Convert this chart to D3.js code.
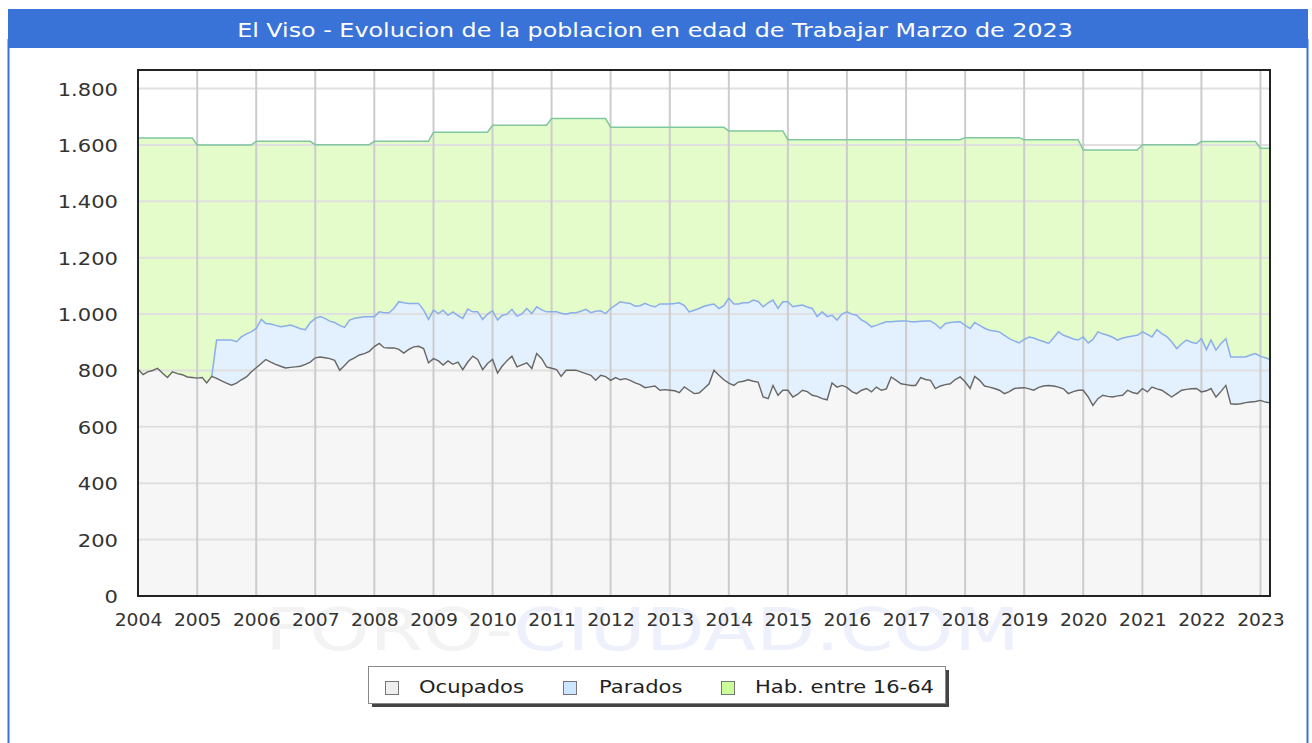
<!DOCTYPE html>
<html>
<head>
<meta charset="utf-8">
<script src="https://cdn.jsdelivr.net/npm/d3@7"></script>
<style>
  body { margin: 0; background: #fff; }
  text { font-family: 'DejaVu Sans', sans-serif; }
</style>
</head>
<body>
<svg id="chart" width="1312" height="743"></svg>
<script>
'use strict'

const titulo = 'El Viso - Evolucion de la poblacion en edad de Trabajar Marzo de 2023'
const years = [2004, 2005, 2006, 2007, 2008, 2009, 2010, 2011, 2012, 2013,
  2014, 2015, 2016, 2017, 2018, 2019, 2020, 2021, 2022, 2023]
const yTicks = [0, 200, 400, 600, 800, 1000, 1200, 1400, 1600, 1800]
const series = ['Ocupados', 'Parados', 'Hab. entre 16-64']

// habitantes 16-64, un valor por año
const habitantes = [1625, 1600, 1613, 1601, 1613, 1645, 1670, 1694, 1663, 1663,
  1650, 1619, 1619, 1619, 1626, 1619, 1582, 1601, 1612, 1588]

// mensual, enero 2004 - marzo 2023
const ocupados = [
  805, 785, 795, 800, 808, 790, 775, 795, 789, 785, 777, 775,
  773, 775, 756, 779, 772, 763, 755, 748, 755, 767, 777, 795,
  810, 825, 839, 830, 822, 815, 809, 811, 813, 815, 822, 830,
  845, 848, 845, 842, 836, 801, 818, 836, 845, 855, 860, 868,
  885, 896, 881, 880, 880, 875, 862, 875, 884, 886, 878, 827,
  842, 834, 819, 834, 822, 830, 803, 830, 851, 839, 803, 825,
  839, 791, 815, 835, 851, 813, 820, 827, 807, 860, 842, 813,
  808, 803, 779, 801, 801, 801, 795, 789, 783, 765, 783, 778,
  765, 775, 767, 771, 765, 756, 750, 739, 742, 745, 730, 732,
  730, 728, 721, 742, 730, 718, 720, 736, 753, 801, 783, 767,
  755, 747, 759, 762, 767, 762, 759, 706, 700, 747, 712, 730,
  730, 706, 715, 730, 725, 712, 708, 700, 696, 756, 741, 747,
  740, 725, 718, 730, 736, 724, 741, 730, 735, 777, 765, 753,
  750, 747, 747, 775, 768, 765, 736, 745, 750, 753, 768, 777,
  760, 736, 779, 765, 745, 741, 736, 730, 718, 725, 736, 738,
  739, 735, 730, 740, 745, 747, 745, 741, 735, 718, 725, 730,
  730, 706, 676, 700, 712, 708, 706, 710, 712, 730, 722, 718,
  736, 724, 741, 735, 730, 718, 706, 718, 730, 733, 735, 736,
  724, 728, 736, 706, 725, 747, 682, 680, 682, 686, 688, 690,
  694, 688, 685
]

const parados = [
  null, null, null, null, null, null, null, null, null, null, null, null,
  null, null, null, 0, 136, 145, 153, 160, 147, 152, 153, 142,
  139, 156, 128, 135, 138, 140, 149, 150, 142, 133, 123, 140,
  140, 143, 140, 133, 134, 159, 135, 143, 140, 133, 131, 123,
  106, 112, 124, 125, 140, 169, 178, 163, 154, 152, 136, 154,
  172, 168, 195, 162, 186, 165, 182, 188, 157, 169, 178, 175,
  173, 188, 180, 165, 166, 180, 180, 193, 195, 166, 173, 195,
  200, 205, 224, 199, 204, 204, 215, 228, 222, 245, 229, 224,
  255, 257, 277, 269, 273, 272, 280, 299, 288, 281, 306, 304,
  306, 310, 319, 288, 278, 296, 300, 292, 279, 235, 237, 263,
  301, 289, 277, 278, 273, 288, 286, 320, 340, 303, 308, 314,
  314, 320, 315, 302, 300, 308, 283, 308, 295, 240, 238, 253,
  268, 275, 278, 249, 234, 231, 219, 237, 238, 196, 210, 223,
  226, 226, 226, 200, 208, 211, 229, 204, 217, 217, 204, 196,
  200, 213, 191, 195, 205, 202, 204, 207, 207, 188, 169, 160,
  171, 184, 185, 168, 158, 149, 170, 196, 190, 201, 187, 178,
  189, 192, 234, 237, 218, 217, 212, 198, 203, 189, 200, 207,
  201, 204, 178, 210, 201, 202, 196, 160, 165, 175, 165, 160,
  189, 146, 172, 166, 170, 166, 166, 168, 166, 162, 167, 170,
  156, 157, 154
]

const AZUL = '#3a73d7'

/**
 * Pone un texto estirado en horizontal como en la imagen original
 * @param {object} sel la seleccion de texto
 * @param {number} x posicion horizontal
 * @param {number} y linea base
 * @param {number} k factor de estiramiento
 */
function stretch (sel, x, y, k = 1.17) {
  sel.attr('transform', `translate(${x},${y}) scale(${k},1)`)
}

(function (d3) {
  const svg = d3.select('#chart')
  const plot = { left: 138, right: 1270, top: 70, bottom: 596 }

  const rows = ocupados.map((oc, i) => {
    const par = parados[i]
    return {
      date: new Date(2004, i, 1),
      oc: oc,
      par: par,
      tot: oc + (par === null ? 0 : par),
      hab: habitantes[Math.floor(i / 12)]
    }
  })

  const x = d3.scaleTime()
    .domain([rows[0].date, rows[rows.length - 1].date])
    .range([plot.left, plot.right])
  const y = d3.scaleLinear()
    .domain([0, 1866])
    .range([plot.bottom, plot.top])

  // marco y titulo
  svg.append('rect')
    .attr('x', 8.5).attr('y', 40).attr('width', 1299).attr('height', 720)
    .attr('fill', 'none').attr('stroke', AZUL).attr('stroke-width', 2)
  svg.append('rect')
    .attr('x', 8).attr('y', 9).attr('width', 1300).attr('height', 39)
    .attr('fill', AZUL)
  svg.append('text')
    .attr('text-anchor', 'middle')
    .attr('font-size', 20)
    .attr('fill', '#fff')
    .text(titulo)
    .call(stretch, 655, 36.5, 1.19)

  // marca de agua
  const wm = svg.append('text')
    .attr('x', 265).attr('y', 650)
    .attr('font-size', 58)
    .attr('textLength', 755)
    .attr('lengthAdjust', 'spacingAndGlyphs')
  wm.append('tspan').attr('fill', '#f3f3f3').text('FORO-')
  wm.append('tspan').attr('fill', '#eef0fb').text('CIUDAD.COM')

  svg.append('rect')
    .attr('x', plot.left).attr('y', plot.top)
    .attr('width', plot.right - plot.left).attr('height', plot.bottom - plot.top)
    .attr('fill', '#fff')

  // areas apiladas
  svg.append('path').datum(rows)
    .attr('fill', '#e4fcc9')
    .attr('d', d3.area().x(d => x(d.date)).y0(d => y(d.tot)).y1(d => y(d.hab)))
  svg.append('path').datum(rows)
    .attr('fill', '#e3f1ff')
    .attr('d', d3.area().defined(d => d.par !== null)
      .x(d => x(d.date)).y0(d => y(d.oc)).y1(d => y(d.tot)))
  svg.append('path').datum(rows)
    .attr('fill', '#f6f6f6')
    .attr('d', d3.area().x(d => x(d.date)).y0(y(0)).y1(d => y(d.oc)))

  // rejilla
  svg.append('g').selectAll('line')
    .data(yTicks.slice(1))
    .join('line')
    .attr('x1', plot.left).attr('x2', plot.right)
    .attr('y1', d => y(d)).attr('y2', d => y(d))
    .attr('stroke', '#e0e0e0').attr('stroke-width', 2)
  svg.append('g').selectAll('line')
    .data(years.slice(1))
    .join('line')
    .attr('x1', d => x(new Date(d, 0, 1))).attr('x2', d => x(new Date(d, 0, 1)))
    .attr('y1', plot.top).attr('y2', plot.bottom)
    .attr('stroke', '#cccccc').attr('stroke-width', 2)

  // lineas
  svg.append('path').datum(rows)
    .attr('fill', 'none').attr('stroke', '#80c79f').attr('stroke-width', 1.5)
    .attr('d', d3.line().x(d => x(d.date)).y(d => y(d.hab)))
  svg.append('path').datum(rows)
    .attr('fill', 'none').attr('stroke', '#8aaee9').attr('stroke-width', 1.5)
    .attr('d', d3.line().defined(d => d.par !== null).x(d => x(d.date)).y(d => y(d.tot)))
  svg.append('path').datum(rows)
    .attr('fill', 'none').attr('stroke', '#666').attr('stroke-width', 1.4)
    .attr('d', d3.line().x(d => x(d.date)).y(d => y(d.oc)))

  svg.append('rect')
    .attr('x', plot.left).attr('y', plot.top)
    .attr('width', plot.right - plot.left).attr('height', plot.bottom - plot.top)
    .attr('fill', 'none').attr('stroke', '#222').attr('stroke-width', 2)

  // ejes
  const es = d3.formatLocale({ decimal: ',', thousands: '.', grouping: [3], currency: ['', ''] })
  const yAxis = svg.append('g')
    .attr('transform', `translate(${plot.left},0)`)
    .call(d3.axisLeft(y).tickValues(yTicks).tickSize(0).tickFormat(es.format(',d')))
  yAxis.select('.domain').remove()
  yAxis.selectAll('text')
    .attr('x', null).attr('dy', null)
    .attr('font-size', 18).attr('fill', '#333').attr('font-family', null)
    .call(stretch, -20, 6.5)

  const xAxis = svg.append('g')
    .attr('transform', `translate(0,${plot.bottom})`)
    .call(d3.axisBottom(x).tickValues(years.map(d => new Date(d, 0, 1)))
      .tickSize(0).tickFormat(d3.timeFormat('%Y')))
  xAxis.select('.domain').remove()
  xAxis.selectAll('text')
    .attr('y', null).attr('dy', null)
    .attr('font-size', 17).attr('fill', '#333').attr('font-family', null)
    .call(stretch, 0, 30, 1.1)

  // leyenda
  const colores = ['#eeeeee', '#cce6ff', '#ccff99']
  const lx = [385, 563, 721]
  const tx = [419, 599, 755]
  svg.append('rect')
    .attr('x', 372).attr('y', 670).attr('width', 577).attr('height', 37)
    .attr('fill', '#444')
  svg.append('rect')
    .attr('x', 368.5).attr('y', 666.5).attr('width', 577).attr('height', 37)
    .attr('fill', '#fff').attr('stroke', '#888')
  const items = svg.append('g').selectAll('g')
    .data(series)
    .join('g')
  items.append('rect')
    .attr('x', (d, i) => lx[i] + 0.5).attr('y', 681.5)
    .attr('width', 13).attr('height', 13)
    .attr('fill', (d, i) => colores[i]).attr('stroke', '#777')
  items.append('text')
    .attr('font-size', 18).attr('fill', '#222')
    .text(d => d)
    .each(function (d, i) { d3.select(this).call(stretch, tx[i], 693) })
})(d3)
</script>
</body>
</html>
